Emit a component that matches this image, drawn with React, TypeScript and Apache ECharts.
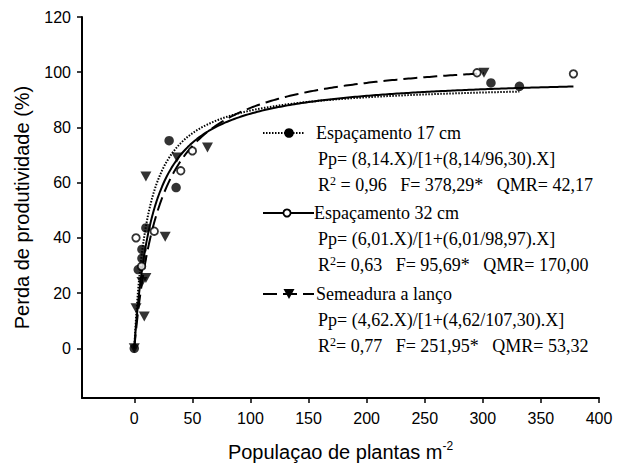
import React, { useEffect, useRef } from "react";
import * as echarts from "echarts";

// ---- axis ticks ----
const xTicks = [0, 50, 100, 150, 200, 250, 300, 350, 400];
const yTicks = [0, 20, 40, 60, 80, 100, 120];

const esp17X = [0, 3.4, 6.6, 6.6, 10, 30, 36, 307, 331.5];
const esp17Y = [0, 28.5, 32.6, 35.8, 43.6, 75.2, 58.2, 96.1, 94.9];

const esp32X = [1.5, 6.3, 17.2, 40, 50, 295, 378];
const esp32Y = [40, 29.7, 42.4, 64.3, 71.5, 99.8, 99.4];

const lancoX = [0, 1.5, 8.6, 6.6, 10, 26.6, 10, 36.7, 63, 301];
const lancoY = [0, 14.5, 11.5, 24, 25.5, 40.4, 62.2, 69.1, 72.7, 99.8];

// ---- fitted model parameters printed on the chart: Pp = iX / (1 + (i/A) X) ----
const fitI = [8.14, 6.01, 4.62];
const fitA = [96.3, 98.97, 107.3];

// ---- legend texts ----
const legendTitles = ["Espaçamento 17 cm", "Espaçamento 32 cm", "Semeadura a lanço"];
const legendEqs = [
  "Pp= (8,14.X)/[1+(8,14/96,30).X]",
  "Pp= (6,01.X)/[1+(6,01/98,97).X]",
  "Pp= (4,62.X)/[1+(4,62/107,30).X]",
];
const legendR2 = [" = 0,96", "= 0,63", "= 0,77"];
const legendF = ["F= 378,29*", "F= 95,69*", "F= 251,95*"];
const legendQMR = ["QMR= 42,17", "QMR= 170,00", "QMR= 53,32"];

// ---- layout (pixels) ----
const legendRowY = [133, 213, 294];

const SERIF = '"Liberation Serif", "Times New Roman", serif';
const SANS = '"Liberation Sans", Arial, sans-serif';
const GAP = "\u00A0\u00A0\u00A0";

function curve(i: number, A: number, xEnd: number): number[][] {
  const pts: number[][] = [];
  const xs: number[] = [];
  for (let x = 0; x < 20; x += 0.25) xs.push(x);
  for (let x = 20; x < xEnd; x += 2) xs.push(x);
  xs.push(xEnd);
  for (const x of xs) pts.push([x, (i * x) / (1 + (i / A) * x)]);
  return pts;
}

const zip = (xs: number[], ys: number[]) => xs.map((x, k) => [x, ys[k]]);
const nb = (s: string) => s.replace(/ /g, "\u00A0");

export default function App() {
  const ref = useRef<HTMLDivElement>(null);

  useEffect(() => {
    document.body.style.margin = "0";
    const chart = echarts.init(ref.current!, undefined, { renderer: "svg" });

    const graphics: any[] = [];
    const textEl = (text: string, x: number, y: number) => ({
      type: "text",
      x,
      y,
      style: {
        text,
        fill: "#000",
        fontSize: 18,
        fontFamily: SERIF,
        align: "left",
        verticalAlign: "middle",
      },
    });

    for (let r = 0; r < 3; r++) {
      const y = legendRowY[r];
      const dash = r === 0 ? [1.5, 1.5] : r === 2 ? [14, 6] : null;
      const x1 = 263;
      const x2 = r === 0 ? 304 : 314;
      graphics.push({
        type: "line",
        shape: { x1, y1: y, x2, y2: y },
        style: { stroke: "#000", lineWidth: 2, lineDash: dash },
      });
      if (r === 0) {
        graphics.push({ type: "circle", shape: { cx: 289, cy: y, r: 4.8 }, style: { fill: "#000" } });
      } else if (r === 1) {
        graphics.push({
          type: "circle",
          shape: { cx: 287, cy: y, r: 3.6 },
          style: { fill: "#fff", stroke: "#000", lineWidth: 1.8 },
        });
      } else {
        graphics.push({
          type: "polygon",
          shape: { points: [[283.5, y - 5], [294.5, y - 5], [289, y + 5]] },
          style: { fill: "#000" },
        });
      }
      graphics.push(textEl(legendTitles[r], r === 1 ? 314 : 316, y));
      graphics.push(textEl(legendEqs[r], 318, y + 26));
      graphics.push({
        type: "text",
        x: 318,
        y: y + 52,
        style: {
          text: `{m|R}{s|2}{m|${nb(legendR2[r]) + GAP + nb(legendF[r]) + GAP + nb(legendQMR[r])}}`,
          fill: "#000",
          align: "left",
          verticalAlign: "middle",
          rich: {
            m: { fontSize: 18, fontFamily: SERIF, fill: "#000", lineHeight: 20 },
            s: { fontSize: 12, fontFamily: SERIF, fill: "#000", verticalAlign: "top", lineHeight: 12 },
          },
        },
      });
    }

    chart.setOption({
      animation: false,
      backgroundColor: "#fff",
      grid: { left: 82, right: 18, top: 17, bottom: 67, outerBoundsMode: "none", containLabel: false },
      xAxis: {
        type: "value",
        min: -45,
        max: 400,
        splitLine: { show: false },
        axisLine: { onZero: false, lineStyle: { color: "#000", width: 2 } },
        axisTick: { customValues: xTicks, length: 5, lineStyle: { color: "#000", width: 1.5 } },
        axisLabel: {
          customValues: xTicks,
          color: "#000",
          fontSize: 16,
          fontFamily: SANS,
          margin: 12,
        },
        name: "{a|Populaçao de plantas m}{s|-2}",
        nameLocation: "middle",
        nameGap: 42,
        nameTextStyle: {
          rich: {
            a: { fontSize: 20, fontFamily: SANS, color: "#000", lineHeight: 23 },
            s: { fontSize: 12, fontFamily: SANS, color: "#000", verticalAlign: "top", lineHeight: 12 },
          },
        },
      },
      yAxis: {
        type: "value",
        min: -18,
        max: 120,
        splitLine: { show: false },
        axisLine: { onZero: false, lineStyle: { color: "#000", width: 2 } },
        axisTick: { customValues: yTicks, length: 5, lineStyle: { color: "#000", width: 1.5 } },
        axisLabel: {
          customValues: yTicks,
          color: "#000",
          fontSize: 16,
          fontFamily: SANS,
          margin: 11,
        },
        name: "Perda de produtividade (%)",
        nameLocation: "middle",
        nameRotate: 90,
        nameGap: 50,
        nameTextStyle: { fontSize: 20, fontFamily: SANS, color: "#000" },
      },
      series: [
        {
          type: "line",
          data: curve(fitI[0], fitA[0], Math.max(...esp17X)),
          showSymbol: false,
          lineStyle: { color: "#000", width: 2, type: [1.5, 1.5] },
          z: 2,
        },
        {
          type: "line",
          data: curve(fitI[1], fitA[1], Math.max(...esp32X)),
          showSymbol: false,
          lineStyle: { color: "#000", width: 2, type: "solid" },
          z: 2,
        },
        {
          type: "line",
          data: curve(fitI[2], fitA[2], Math.max(...lancoX)),
          showSymbol: false,
          lineStyle: { color: "#000", width: 2, type: [14, 6] },
          z: 2,
        },
        {
          type: "scatter",
          data: zip(esp17X, esp17Y),
          symbol: "circle",
          symbolSize: 9.5,
          itemStyle: { color: "#000" },
          z: 3,
        },
        {
          type: "scatter",
          data: zip(esp32X, esp32Y),
          symbol: "circle",
          symbolSize: 7.5,
          itemStyle: { color: "#fff", borderColor: "#000", borderWidth: 1.8 },
          z: 3,
        },
        {
          type: "scatter",
          data: zip(lancoX, lancoY),
          symbol: "triangle",
          symbolRotate: 180,
          symbolSize: [11, 10],
          itemStyle: { color: "#000" },
          z: 3,
        },
      ],
      graphic: graphics,
    });

    return () => chart.dispose();
  }, []);

  return <div ref={ref} style={{ width: 617, height: 465 }} />;
}
